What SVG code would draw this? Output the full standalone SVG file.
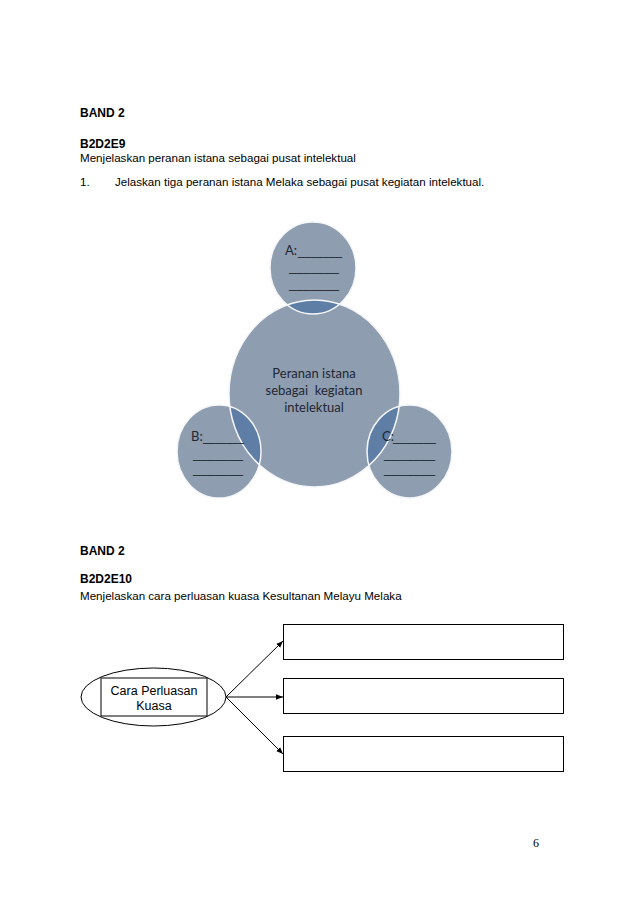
<svg xmlns="http://www.w3.org/2000/svg" width="638" height="903" viewBox="0 0 638 903">
<style>
.h{font-family:"Liberation Sans",Arial,sans-serif;font-size:12px;font-weight:bold;fill:#000}
.t{font-family:"Liberation Sans",Arial,sans-serif;font-size:11.6px;fill:#000}
.c{font-family:Lato,"Open Sans",sans-serif;font-size:13px;fill:#1f2733}
.u{font-family:"Liberation Sans",Arial,sans-serif;font-size:12px;fill:#1f2733}
.l{font-family:Lato,"Open Sans",sans-serif;font-size:13px;fill:#1f2733}
.fill{fill:#8e9db0}
.ov{fill:#5f7ea6}
.edge{fill:none;stroke:#f4f6f9;stroke-width:1.5}
.box{fill:#fff;stroke:#000;stroke-width:1}
.conn{stroke:#000;stroke-width:1;fill:none}
.bt{font-family:"Liberation Sans",Arial,sans-serif;font-size:12.5px;fill:#000;text-anchor:middle}
</style>
<defs>
<clipPath id="cm"><ellipse cx="314.5" cy="393.5" rx="85.5" ry="93.5"/></clipPath>
<marker id="ah" viewBox="0 0 10 10" refX="10" refY="5" markerWidth="7" markerHeight="7" orient="auto" markerUnits="userSpaceOnUse">
<path d="M0,1 L10,5 L0,9 Z" fill="#000"/>
</marker>
</defs>
<rect width="638" height="903" fill="#fff"/>

<text class="h" x="80" y="117">BAND 2</text>
<text class="h" x="80" y="148">B2D2E9</text>
<text class="t" x="80" y="162">Menjelaskan peranan istana sebagai pusat intelektual</text>
<text class="t" x="80" y="186">1.</text>
<text class="t" x="115" y="186">Jelaskan tiga peranan istana Melaka sebagai pusat kegiatan intelektual.</text>

<g id="main-circle">
<ellipse class="fill" cx="314.5" cy="393.5" rx="85.5" ry="93.5"/>
</g>
<g id="circle-a">
<ellipse class="fill" cx="313" cy="268" rx="43" ry="46"/>
<ellipse class="ov" cx="313" cy="268" rx="43" ry="46" clip-path="url(#cm)"/>
</g>
<g id="circle-b">
<ellipse class="fill" cx="219" cy="451.5" rx="42" ry="46.5"/>
<ellipse class="ov" cx="219" cy="451.5" rx="42" ry="46.5" clip-path="url(#cm)"/>
</g>
<g id="circle-c">
<ellipse class="fill" cx="409.5" cy="451.5" rx="42.5" ry="46.5"/>
<ellipse class="ov" cx="409.5" cy="451.5" rx="42.5" ry="46.5" clip-path="url(#cm)"/>
</g>
<g id="edges">
<ellipse class="edge" cx="314.5" cy="393.5" rx="85.5" ry="93.5"/>
<ellipse class="edge" cx="313" cy="268" rx="43" ry="46"/>
<ellipse class="edge" cx="219" cy="451.5" rx="42" ry="46.5"/>
<ellipse class="edge" cx="409.5" cy="451.5" rx="42.5" ry="46.5"/>
</g>
<g id="circle-texts">
<text class="c" text-anchor="middle" x="314" y="378">Peranan istana</text>
<text class="c" text-anchor="middle" x="314" y="395" xml:space="preserve">sebagai  kegiatan</text>
<text class="c" text-anchor="middle" x="314" y="412">intelektual</text>

<text class="l" x="285" y="255">A:</text>
<text class="u" x="298" y="255" textLength="44" lengthAdjust="spacingAndGlyphs">_______</text>
<text class="u" x="289" y="271" textLength="50" lengthAdjust="spacingAndGlyphs">_______</text>
<text class="u" x="289" y="288" textLength="50" lengthAdjust="spacingAndGlyphs">_______</text>

<text class="l" x="191" y="441">B:</text>
<text class="u" x="203" y="441" textLength="41" lengthAdjust="spacingAndGlyphs">_______</text>
<text class="u" x="193" y="458" textLength="50" lengthAdjust="spacingAndGlyphs">_______</text>
<text class="u" x="193" y="473" textLength="50" lengthAdjust="spacingAndGlyphs">_______</text>

<text class="l" x="382" y="441">C:</text>
<text class="u" x="393" y="441" textLength="43" lengthAdjust="spacingAndGlyphs">_______</text>
<text class="u" x="384" y="458" textLength="51" lengthAdjust="spacingAndGlyphs">_______</text>
<text class="u" x="384" y="473" textLength="51" lengthAdjust="spacingAndGlyphs">_______</text>
</g>

<text class="h" x="80" y="555">BAND 2</text>
<text class="h" x="80" y="583">B2D2E10</text>
<text class="t" x="80" y="600">Menjelaskan cara perluasan kuasa Kesultanan Melayu Melaka</text>

<g id="center-node">
<ellipse class="box" cx="153.5" cy="697" rx="72.5" ry="29"/>
<rect class="box" x="101" y="678" width="106" height="38"/>
<text class="bt" x="154" y="695">Cara Perluasan</text>
<text class="bt" x="154" y="710">Kuasa</text>
</g>
<g id="box-1"><rect class="box" x="283.5" y="624.5" width="280" height="35"/></g>
<g id="box-2"><rect class="box" x="283.5" y="678.5" width="280" height="35"/></g>
<g id="box-3"><rect class="box" x="283.5" y="736.5" width="280" height="35"/></g>
<g id="connectors">
<line class="conn" x1="226" y1="697" x2="283" y2="641" marker-end="url(#ah)"/>
<line class="conn" x1="226" y1="697" x2="283" y2="697" marker-end="url(#ah)"/>
<line class="conn" x1="226" y1="697" x2="283" y2="754" marker-end="url(#ah)"/>
</g>

<text x="533" y="847" font-family="'Liberation Serif','Times New Roman',serif" font-size="12" fill="#000">6</text>
</svg>
